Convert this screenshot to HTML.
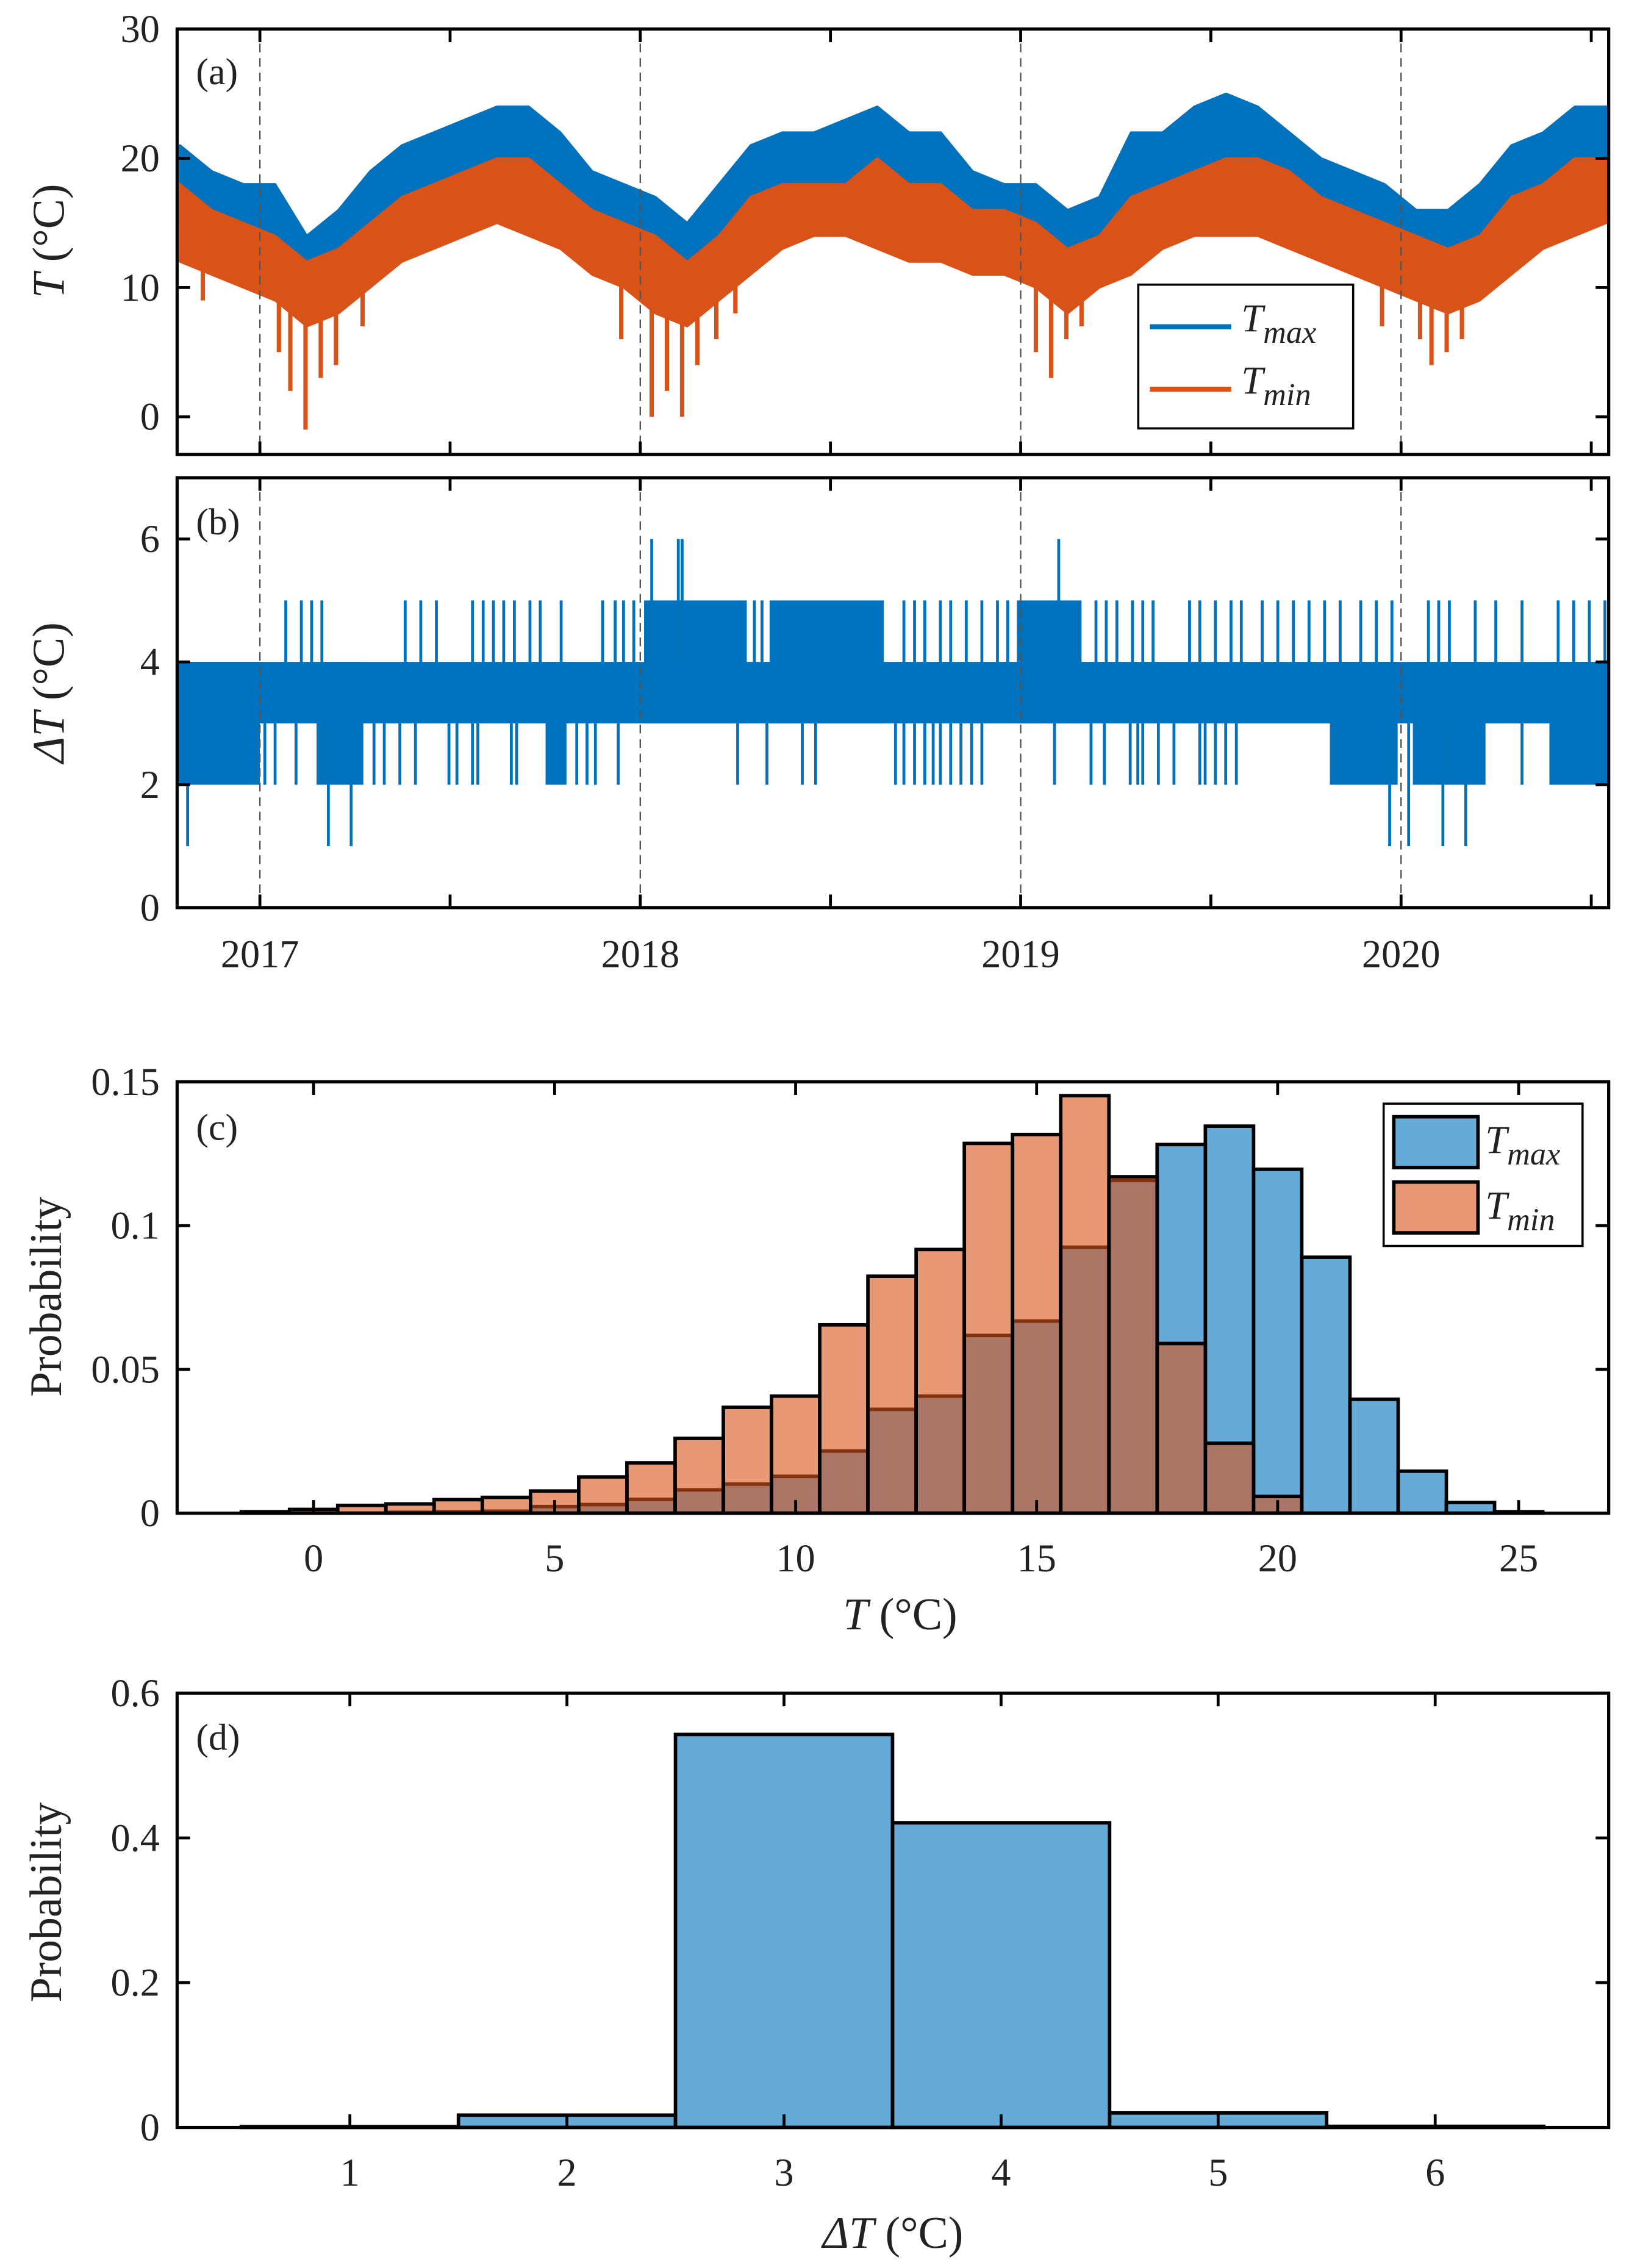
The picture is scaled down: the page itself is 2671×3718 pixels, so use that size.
<!DOCTYPE html>
<html><head><meta charset="utf-8">
<style>
html,body{margin:0;padding:0;background:#fff}
svg{display:block}
text{font-family:"Liberation Serif",serif;fill:#222}
</style></head>
<body>
<svg id="fig" width="2671" height="3718" viewBox="0 0 1122 1561.8" xmlns="http://www.w3.org/2000/svg">
<g id="gA"></g>
<g id="gB"></g>
<g id="gC"></g>
<g id="gD"></g>
</svg>
<script>
// ---------- data ----------
const monthStart = 2016.79;
const tmaxHi = [21,19,18,18,14,16,19,21,22,23,24,24,22,19,18,17,15,18,21,22,22,23,24,22,22,19,18,18,16,17,22,22,24,25,24,22,20,19,18,16,16,18,21,22,24,24];
const tmaxLo = [15,14,13,12,10,11,13,16,17,18,18,18,16,14,12,11,10,12,15,17,17,17,17,16,15,14,14,12,11,12,15,17,17,18,18,16,15,14,12,11,11,12,15,17,18,19];
const tminHi = [18,16,15,14,12,13,15,17,18,19,20,20,18,16,15,14,12,14,17,18,18,18,20,18,18,16,16,15,13,14,17,18,19,20,20,19,17,16,15,14,13,14,17,18,20,20];
const tminLo = [12,11,10,9,7,8,10,12,13,14,15,14,13,11,10,8,7,9,11,13,14,14,13,12,12,11,11,10,8,10,11,13,14,14,14,13,12,11,10,9,8,9,11,13,14,15];
const tminDipYears = [2016.85,2017.05,2017.08,2017.12,2017.16,2017.2,2017.27,2017.95,2018.03,2018.07,2018.11,2018.15,2018.2,2018.25,2019.04,2019.08,2019.12,2019.16,2019.95,2020.05,2020.08,2020.12,2020.16];
const tminDipValues = [9,5,2,-1,3,4,7,6,0,2,0,4,6,8,5,3,6,7,7,6,4,5,6];
const yearTicks = [2017,2018,2019,2020];
const dense24 = [[2016.78,2017.0],[2017.149,2017.272],[2017.751,2017.806],[2019.813,2019.991],[2020.031,2020.222],[2020.39,2020.545]];
const dense35 = [[2018.01,2018.28],[2018.34,2018.64],[2018.99,2019.16]];
const spikes5 = [2017.068,2017.109,2017.136,2017.163,2017.382,2017.423,2017.464,2017.559,2017.587,2017.614,2017.641,2017.669,2017.710,2017.737,2017.792,2017.901,2017.934,2017.956,2017.983,2018.30,2018.32,2018.693,2018.721,2018.748,2018.789,2018.816,2018.857,2018.898,2018.939,2018.966,2019.198,2019.225,2019.253,2019.294,2019.321,2019.348,2019.444,2019.471,2019.512,2019.553,2019.580,2019.635,2019.676,2019.717,2019.758,2019.799,2019.840,2019.894,2019.935,2019.976,2020.072,2020.099,2020.127,2020.195,2020.249,2020.318,2020.413,2020.454,2020.495,2020.536];
const spikes2 = [2017.013,2017.040,2017.095,2017.300,2017.327,2017.368,2017.409,2017.497,2017.518,2017.559,2017.573,2017.661,2017.675,2017.833,2017.860,2017.882,2017.942,2018.256,2018.333,2018.426,2018.461,2018.671,2018.693,2018.721,2018.748,2018.770,2018.789,2018.816,2018.843,2018.871,2018.898,2019.089,2019.185,2019.220,2019.288,2019.308,2019.321,2019.362,2019.403,2019.471,2019.485,2019.512,2019.539,2019.567,2020.318];
const spikes6 = [2018.03,2018.10,2018.11,2019.10];
const spikes1 = [2016.81,2017.18,2017.24,2019.97,2020.02,2020.11,2020.17];
const tBins = [-1,0,1,2,3,4,5,6,7,8,9,10,11,12,13,14,15,16,17,18,19,20,21,22,23,24,25];
const pTmax = [0,0,0,0.0003,0.0005,0.0007,0.0023,0.003,0.0048,0.0081,0.0101,0.0128,0.0216,0.0361,0.0407,0.0618,0.0668,0.0925,0.1157,0.1282,0.1346,0.1196,0.089,0.0396,0.0146,0.0037,0.0005];
const pTmin = [0.0005,0.0013,0.0027,0.0032,0.0047,0.0055,0.0077,0.0126,0.0175,0.026,0.0368,0.0407,0.0655,0.0824,0.0917,0.1286,0.1317,0.1452,0.117,0.059,0.0243,0.0058,0,0,0,0,0];
const cXTicks = [0,5,10,15,20,25];
const cYTicks = [0,0.05,0.1,0.15];
const cYLabels = ["0","0.05","0.1","0.15"];
const dBins = [1,2,3,4,5,6];
const pDelta = [0.001,0.017,0.543,0.421,0.020,0.0015];
const dYTicks = [0,0.2,0.4,0.6];
const dYLabels = ["0","0.2","0.4","0.6"];

// ---------- helpers ----------
const NS="http://www.w3.org/2000/svg";
function mk(parent,tag,attrs,txt){const e=document.createElementNS(NS,tag);for(const k in attrs)e.setAttribute(k,attrs[k]);if(txt!==undefined)e.textContent=txt;parent.appendChild(e);return e;}
const X0=122,X1=1108;
const BLUE="#0072BD",ORANGE="#D95319";
const xYear=t=>179+(t-2017)*262;

function frame(g,top,bot,name){
  const r=mk(g,'rect',{x:X0,y:top,width:X1-X0,height:bot-top,fill:'none',stroke:'#000','stroke-width':2.2});
  
  
}
function yTicksBoth(g,ys,labels,fs){
  ys.forEach((y,i)=>{
    mk(g,'line',{x1:X0,x2:X0+9,y1:y,y2:y,stroke:'#000','stroke-width':2});
    mk(g,'line',{x1:X1-9,x2:X1,y1:y,y2:y,stroke:'#000','stroke-width':2});
    const t=mk(g,'text',{x:X0-12,y:y+9,'text-anchor':'end','font-size':fs},labels[i]);
    
    
  });
}

// ---------- panel a ----------
(function(){
  const g=document.getElementById('gA');
  const top=20,bot=313;
  const yA=v=>287-8.9*v;
  const mx=i=>xYear(monthStart+i/12);
  function band(hi,lo,color,name){
    let d='';
    hi.forEach((v,i)=>{d+=(i?'L':'M')+Math.max(X0,Math.min(X1,mx(i)))+' '+yA(v);});
    for(let i=lo.length-1;i>=0;i--)d+='L'+Math.max(X0,Math.min(X1,mx(i)))+' '+yA(lo[i]);
    const p=mk(g,'path',{d:d+'Z',fill:color,stroke:color,'stroke-width':1.5,'stroke-linejoin':'round'});
    
    
  }
  band(tmaxHi,tmaxLo,BLUE,'tmax-series');
  band(tminHi,tminLo,ORANGE,'tmin-series');
  tminDipYears.forEach((t,i)=>{
    const base=tminLo[Math.max(0,Math.min(tminLo.length-1,Math.round((t-monthStart)*12)))]+1;
    const l=mk(g,'line',{x1:xYear(t),x2:xYear(t),y1:yA(base),y2:yA(tminDipValues[i]),stroke:ORANGE,'stroke-width':3});
    
    
  });
  yearTicks.forEach(yr=>{
    const l=mk(g,'line',{x1:xYear(yr),x2:xYear(yr),y1:top,y2:bot,stroke:'#555','stroke-width':1,'stroke-dasharray':'6,4'});
    
    
  });
  for(let t=2017;t<=2020.5;t+=0.5){
    mk(g,'line',{x1:xYear(t),x2:xYear(t),y1:top,y2:top+9,stroke:'#000','stroke-width':2});
    mk(g,'line',{x1:xYear(t),x2:xYear(t),y1:bot-9,y2:bot,stroke:'#000','stroke-width':2});
  }
  frame(g,top,bot,'panel-a-axes');
  yTicksBoth(g,[0,10,20,30].map(yA),["0","10","20","30"],27);
  const pl=mk(g,'text',{x:135,y:58,'font-size':26},'(a)');
  
  
  const yl=mk(g,'text',{transform:'translate(44,166) rotate(-90)','text-anchor':'middle','font-size':31});
  
  
  mk(yl,'tspan',{'font-style':'italic'},'T');mk(yl,'tspan',{},' (°C)');
  const lg=mk(g,'g',{});
  
  
  mk(lg,'rect',{x:784,y:196,width:148,height:99,fill:'#fff',stroke:'#000','stroke-width':1.5});
  [[BLUE,'max',225],[ORANGE,'min',268]].forEach(([c,s,y])=>{
    const e=mk(lg,'g',{});
    
    
    mk(e,'line',{x1:792,x2:848,y1:y,y2:y,stroke:c,'stroke-width':3.5});
    const t=mk(e,'text',{x:855,y:y+3,'font-size':27,'font-style':'italic'},'T');
    mk(t,'tspan',{dy:8,'font-size':22},s);
  });
})();

// ---------- panel b ----------
(function(){
  const g=document.getElementById('gB');
  const top=329,bot=625;
  const yB=v=>bot-42.3*v;
  const clampX=x=>Math.max(X0,Math.min(X1,x));
  const base=mk(g,'rect',{x:X0,y:yB(4),width:X1-X0,height:yB(3)-yB(4),fill:BLUE});
  
  
  dense24.forEach(([a,b])=>{
    const r=mk(g,'rect',{x:clampX(xYear(a)),y:yB(4),width:clampX(xYear(b))-clampX(xYear(a)),height:yB(2)-yB(4),fill:BLUE});
    
    
  });
  dense35.forEach(([a,b])=>{
    const r=mk(g,'rect',{x:xYear(a),y:yB(5),width:xYear(b)-xYear(a),height:yB(3)-yB(5),fill:BLUE});
    
    
  });
  function spikes(arr,from,to,name){
    arr.forEach(t=>{
      const l=mk(g,'line',{x1:xYear(t),x2:xYear(t),y1:yB(from),y2:yB(to),stroke:BLUE,'stroke-width':2});
      
      
    });
  }
  spikes(spikes5,4,5,'spike-5');
  spikes(spikes2,3,2,'spike-2');
  spikes(spikes6,4,6,'spike-6');
  spikes(spikes1,3,1,'spike-1');
  yearTicks.forEach(yr=>{
    const l=mk(g,'line',{x1:xYear(yr),x2:xYear(yr),y1:top,y2:bot,stroke:'#555','stroke-width':1,'stroke-dasharray':'6,4'});
    
    
    const t=mk(g,'text',{x:xYear(yr),y:666,'text-anchor':'middle','font-size':27},String(yr));
    
    
  });
  for(let t=2017;t<=2020.5;t+=0.5){
    mk(g,'line',{x1:xYear(t),x2:xYear(t),y1:top,y2:top+9,stroke:'#000','stroke-width':2});
    mk(g,'line',{x1:xYear(t),x2:xYear(t),y1:bot-9,y2:bot,stroke:'#000','stroke-width':2});
  }
  frame(g,top,bot,'panel-b-axes');
  yTicksBoth(g,[0,2,4,6].map(yB),["0","2","4","6"],27);
  const pl=mk(g,'text',{x:135,y:368,'font-size':26},'(b)');
  
  
  const yl=mk(g,'text',{transform:'translate(44,477) rotate(-90)','text-anchor':'middle','font-size':31});
  
  
  mk(yl,'tspan',{'font-style':'italic'},'ΔT');mk(yl,'tspan',{},' (°C)');
})();

// ---------- panel c ----------
(function(){
  const g=document.getElementById('gC');
  const top=745,bot=1042;
  const xC=v=>216+33.2*v;
  const yC=v=>bot-(bot-top)*v/0.15;
  function bars(vals,color,name){
    tBins.forEach((b,i)=>{
      const v=vals[i];
      const r=mk(g,'rect',{x:xC(b-0.5),y:yC(v),width:33.2,height:bot-yC(v),fill:color,'fill-opacity':0.6,stroke:'#000','stroke-width':2.4});
      
      
    });
  }
  bars(pTmax,BLUE,'bar-tmax');
  bars(pTmin,ORANGE,'bar-tmin');
  frame(g,top,bot,'panel-c-axes');
  cXTicks.forEach(v=>{
    mk(g,'line',{x1:xC(v),x2:xC(v),y1:top,y2:top+9,stroke:'#000','stroke-width':2});
    mk(g,'line',{x1:xC(v),x2:xC(v),y1:bot-9,y2:bot,stroke:'#000','stroke-width':2});
    const t=mk(g,'text',{x:xC(v),y:1082,'text-anchor':'middle','font-size':27},String(v));
    
    
  });
  yTicksBoth(g,cYTicks.map(yC),cYLabels,27);
  const pl=mk(g,'text',{x:135,y:785,'font-size':26},'(c)');
  
  
  const yl=mk(g,'text',{transform:'translate(42,893) rotate(-90)','text-anchor':'middle','font-size':31},'Probability');
  
  
  const xl=mk(g,'text',{x:620,y:1122,'text-anchor':'middle','font-size':31});
  
  
  mk(xl,'tspan',{'font-style':'italic'},'T');mk(xl,'tspan',{},' (°C)');
  const lg=mk(g,'g',{});
  
  
  mk(lg,'rect',{x:953,y:760,width:137,height:98,fill:'#fff',stroke:'#000','stroke-width':1.5});
  [[BLUE,'max',769],[ORANGE,'min',814]].forEach(([c,s,y])=>{
    const e=mk(lg,'g',{});
    
    
    mk(e,'rect',{x:960,y:y,width:58,height:35,fill:c,'fill-opacity':0.6,stroke:'#000','stroke-width':2.4});
    const t=mk(e,'text',{x:1023,y:y+25,'font-size':27,'font-style':'italic'},'T');
    mk(t,'tspan',{dy:8,'font-size':22},s);
  });
})();

// ---------- panel d ----------
(function(){
  const g=document.getElementById('gD');
  const top=1166,bot=1465;
  const xD=v=>241+149.5*(v-1);
  const yD=v=>bot-(bot-top)*v/0.6;
  dBins.forEach((b,i)=>{
    const v=pDelta[i];
    const r=mk(g,'rect',{x:xD(b-0.5),y:yD(v),width:149.5,height:bot-yD(v),fill:BLUE,'fill-opacity':0.6,stroke:'#000','stroke-width':2.4});
    
    
  });
  frame(g,top,bot,'panel-d-axes');
  dBins.forEach(v=>{
    mk(g,'line',{x1:xD(v),x2:xD(v),y1:top,y2:top+9,stroke:'#000','stroke-width':2});
    mk(g,'line',{x1:xD(v),x2:xD(v),y1:bot-9,y2:bot,stroke:'#000','stroke-width':2});
    const t=mk(g,'text',{x:xD(v),y:1505,'text-anchor':'middle','font-size':27},String(v));
    
    
  });
  yTicksBoth(g,dYTicks.map(yD),dYLabels,27);
  const pl=mk(g,'text',{x:135,y:1205,'font-size':26},'(d)');
  
  
  const yl=mk(g,'text',{transform:'translate(42,1310) rotate(-90)','text-anchor':'middle','font-size':31},'Probability');
  
  
  const xl=mk(g,'text',{x:615,y:1548,'text-anchor':'middle','font-size':31});
  
  
  mk(xl,'tspan',{'font-style':'italic'},'ΔT');mk(xl,'tspan',{},' (°C)');
})();
</script>
</body></html>
